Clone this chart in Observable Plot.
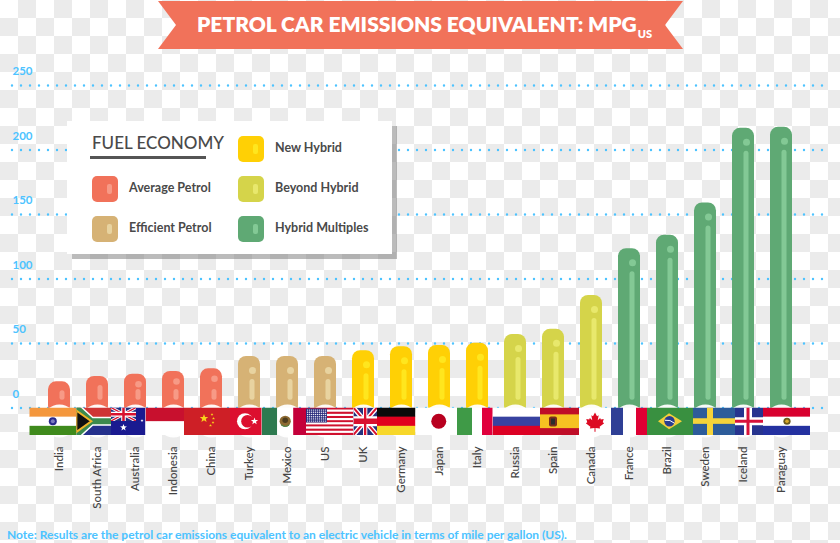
<!DOCTYPE html>
<html><head><meta charset="utf-8">
<script src="https://cdn.jsdelivr.net/npm/d3@7"></script>
<script src="https://cdn.jsdelivr.net/npm/@observablehq/plot@0.6"></script>
<style>
html,body{margin:0;padding:0}
body{width:840px;height:543px;overflow:hidden;font-family:Lato,sans-serif;
 background:conic-gradient(#ebebeb 25%,#fff 0 50%,#ebebeb 0 75%,#fff 0) 0 0/36px 36px}
#wrap{position:relative;width:840px;height:543px}
#chart svg{display:block;background:transparent;position:absolute;left:0;top:0}
#banner{position:absolute;left:158px;top:1px;width:525px;height:48px;background:#f1725a;
 clip-path:polygon(0 0,100% 0,calc(100% - 18px) 50%,100% 100%,0 100%,18px 50%);
 color:#fff;font-weight:800;font-size:21px;line-height:46px;text-indent:39px;white-space:nowrap}
#banner sub{font-size:11px;line-height:0;vertical-align:-6px;margin-left:1px}
#note{position:absolute;left:7px;top:527px;font-size:12px;font-weight:700;color:#4dc3ff;white-space:nowrap}
#legend{position:absolute;left:67px;top:121px;width:325px;height:133px;background:#fff;
 box-shadow:5px 5px 0 rgba(120,120,120,.5);color:#4a4a4a}
#legend .h{position:absolute;left:25px;top:11px;font-size:17px;font-weight:500;white-space:nowrap}
#legend .u{position:absolute;left:23px;top:35px;width:116px;height:3px;background:#555}
#legend .s{position:absolute;width:26px;height:26px;border-radius:5px}
#legend .s i{position:absolute;left:15.5px;top:8px;width:5px;height:10px;border-radius:2px}
#legend .t{position:absolute;font-size:12.5px;font-weight:700;line-height:16px;white-space:nowrap}
</style></head>
<body><div id="wrap">
<div id="chart"></div>
<div id="banner">PETROL CAR EMISSIONS EQUIVALENT: MPG<sub>US</sub></div>
<div id="legend"></div>
<div id="note">Note: Results are the petrol car emissions equivalent to an electric vehicle in terms of mile per gallon (US).</div>
</div>
<script>
const countries = ["India","South Africa","Australia","Indonesia","China","Turkey","Mexico","US","UK","Germany","Japan","Italy","Russia","Spain","Canada","France","Brazil","Sweden","Iceland","Paraguay"];
const mpg = [20.3,24.4,26.2,28.3,30.4,40,40,40,44.4,47.5,48.5,50.2,57,61,87.2,123.5,134,159,216.8,217.6];
const groupOf = ["Average Petrol","Average Petrol","Average Petrol","Average Petrol","Average Petrol","Efficient Petrol","Efficient Petrol","Efficient Petrol","New Hybrid","New Hybrid","New Hybrid","New Hybrid","Beyond Hybrid","Beyond Hybrid","Beyond Hybrid","Hybrid Multiples","Hybrid Multiples","Hybrid Multiples","Hybrid Multiples","Hybrid Multiples"];
const groups = ["Average Petrol","Efficient Petrol","New Hybrid","Beyond Hybrid","Hybrid Multiples"];
const groupColors = ["#f1725a","#d6b275","#ffd005","#d5d44a","#5fa974"];
const groupLights = ["#f79a86","#e8d3a0","#ffe61e","#e8e86c","#83c995"];
const yTicks = [0,50,100,150,200,250];
const rows = countries.map((c,i)=>({c,v:mpg[i],g:groupOf[i]}));
const light = d => groupLights[groups.indexOf(d.g)];

/* ---- flag pictograms: each is an SVG fragment in its own w×h box ---- */
const uj = (w,h)=>{
  return `<svg x="0" y="0" width="${w}" height="${h}" viewBox="0 0 60 30" preserveAspectRatio="none">
  <rect width="60" height="30" fill="#24307e"/>
  <path d="M0 0L60 30M60 0L0 30" stroke="#fff" stroke-width="7"/>
  <path d="M0 0L60 30M60 0L0 30" stroke="#d8112f" stroke-width="3"/>
  <path d="M30 0V30M0 15H60" stroke="#fff" stroke-width="11"/>
  <path d="M30 0V30M0 15H60" stroke="#d8112f" stroke-width="6"/></svg>`;};
const star=(x,y,r,f)=>{let p=[];for(let i=0;i<10;i++){const a=-Math.PI/2+i*Math.PI/5,q=i%2?r*.42:r;p.push((x+q*Math.cos(a)).toFixed(1)+","+(y+q*Math.sin(a)).toFixed(1));}return `<polygon points="${p.join(" ")}" fill="${f}"/>`;};
const bands=(w,h,cs)=>cs.map((c,i)=>`<rect y="${h*i/cs.length}" width="${w}" height="${h/cs.length+.3}" fill="${c}"/>`).join("");
const vbands=(h,spec)=>spec.map(([x,w,c])=>`<rect x="${x}" width="${w}" height="${h}" fill="${c}"/>`).join("");
const flagDraw = {
 India:(w,h)=>bands(w,h,["#f4973d","#fff","#3f8a1c"])+`<circle cx="${w/2}" cy="${h/2}" r="4" fill="#2a2a8c"/><circle cx="${w/2}" cy="${h/2}" r="2" fill="#7a7ac0"/>`,
 "South Africa":(w,h)=>`<rect width="${w}" height="${h/2}" fill="#cf3535"/><rect y="${h/2}" width="${w}" height="${h/2}" fill="#24308c"/>
  <path d="M0 0L15 ${h/2}H${w}M0 ${h}L15 ${h/2}" fill="none" stroke="#fff" stroke-width="9"/>
  <path d="M0 0L15 ${h/2}H${w}M0 ${h}L15 ${h/2}" fill="none" stroke="#3c8a4e" stroke-width="6"/>
  <path d="M0 3L15 ${h/2}L0 ${h-3}Z" fill="#111" stroke="#f0b428" stroke-width="2"/>`,
 Australia:(w,h)=>`<rect width="${w}" height="${h}" fill="#1a1a90"/>`+uj(25,13.5)+star(12.5,20,3.6,"#fff")+star(31,13,1.6,"#fff"),
 Indonesia:(w,h)=>bands(w,h,["#c8102e","#fff"]),
 China:(w,h)=>`<rect width="${w}" height="${h}" fill="#ce1f26"/>`+star(20,11,4.4,"#f8d21a")+star(28,7,1.5,"#f8d21a")+star(29.5,11,1.5,"#f8d21a")+star(29,15,1.5,"#f8d21a")+star(26.5,18,1.5,"#f8d21a"),
 Turkey:(w,h)=>`<rect width="${w}" height="${h}" fill="#dc0f2f"/><circle cx="15" cy="${h/2}" r="8" fill="#fff"/><circle cx="17.5" cy="${h/2}" r="6.3" fill="#dc0f2f"/>`+star(24.5,h/2,3.8,"#fff"),
 Mexico:(w,h)=>vbands(h,[[0,15.5,"#2e7a50"],[15.5,16,"#fff"],[31.5,w-31.5,"#c4003a"]])+`<circle cx="23.5" cy="${h/2}" r="5.6" fill="#8d6a32"/><circle cx="23.5" cy="${h/2-1}" r="2.8" fill="#4d3d1e"/><path d="M19.5 ${h/2+3.5}Q23.5 ${h/2+7} 27.5 ${h/2+3.5}" fill="none" stroke="#3f8a4a"/>`,
 US:(w,h)=>{let s="";for(let i=0;i<13;i++)s+=`<rect y="${i*h/13}" width="${w}" height="${h/13+.2}" fill="${i%2?"#fff":"#d0102e"}"/>`;
   s+=`<rect x="0" y="1" width="21" height="14" fill="#2b2f7e"/>`;
   for(let r=0;r<6;r++)for(let c=0;c<10;c++)s+=`<circle cx="${1.6+c*2}" cy="${2.6+r*2.2}" r=".72" fill="#e9e9f2"/>`;return s;},
 UK:(w,h)=>uj(w,h),
 Germany:(w,h)=>bands(w,h,["#0a0a0a","#e1001e","#f7d72a"]),
 Japan:(w,h)=>`<rect width="${w}" height="${h}" fill="#fff"/><circle cx="${w/2+2.5}" cy="${h/2}" r="7.5" fill="#b8001f"/>`,
 Italy:(w,h)=>vbands(h,[[0,15,"#3f9a47"],[15,10,"#fff"],[25,w-25,"#e0003c"]]),
 Russia:(w,h)=>bands(w,h,["#fff","#3742a0","#dc0023"]),
 Spain:(w,h)=>`<rect width="${w}" height="${h}" fill="#bf0d28"/><rect y="${h/4}" width="${w}" height="${h/2}" fill="#f6c222"/><rect x="9" y="9" width="8" height="10" rx="2" fill="#7a2d1c"/><rect x="11" y="11" width="4" height="6" fill="#2c2c2c"/>`,
 Canada:(w,h)=>`<rect width="${w}" height="${h}" fill="#fff"/><path transform="translate(${w/2} ${h/2+.5}) scale(.92)" fill="#dc0a23" d="M0 -10 L2.2 -6 L4 -7 L3 -1.5 L5.6 -4 L6.3 -2.4 L9.5 -3 L8.4 .6 L10 1.5 L5 5.5 L5.6 7.4 L.5 6.8 L.6 11 H-.6 L-.5 6.8 L-5.6 7.4 L-5 5.5 L-10 1.5 L-8.4 .6 L-9.5 -3 L-6.3 -2.4 L-5.6 -4 L-3 -1.5 L-4 -7 L-2.2 -6 Z"/>`,
 France:(w,h)=>vbands(h,[[0,12,"#2f3f95"],[12,13,"#fff"],[25,w-25,"#de0033"]]),
 Brazil:(w,h)=>`<rect width="${w}" height="${h}" fill="#399040"/><path d="M${w/2-12} ${h/2}L${w/2-1} ${h/2-8}L${w/2+12} ${h/2}L${w/2-1} ${h/2+8}Z" fill="#f3cf3a"/><circle cx="${w/2-.5}" cy="${h/2}" r="5.2" fill="#2a3c90"/><path d="M${w/2-5} ${h/2-1}Q${w/2} ${h/2-2} ${w/2+4.5} ${h/2+2}" stroke="#fff" fill="none" stroke-width="1"/>`,
 Sweden:(w,h)=>`<rect width="${w}" height="${h}" fill="#2d5c9a"/><rect x="14" width="6" height="${h}" fill="#f5d33a"/><rect y="${h/2-3}" width="${w}" height="5.6" fill="#f5d33a"/>`,
 Iceland:(w,h)=>`<rect width="${w}" height="${h}" fill="#27348f"/><rect x="9" width="8" height="${h}" fill="#fff"/><rect y="${h/2-4}" width="${w}" height="8" fill="#fff"/><rect x="11.5" width="3" height="${h}" fill="#d8123a"/><rect y="${h/2-1.5}" width="${w}" height="3" fill="#d8123a"/>`,
 Paraguay:(w,h)=>bands(w,h,["#d8002e","#fff","#2431a0"])+`<circle cx="${w/2+.5}" cy="${h/2}" r="3.6" fill="#6b5a1c"/><circle cx="${w/2+.5}" cy="${h/2}" r="1.8" fill="#d8a92a"/>`
};
/* flag extents relative to the band centre, in px */
const flagEdges = [29.3,76.3,111,145.5,184,230,261.7,306,353.3,377,415.5,457,492.7,540,579,611,647,693,735,763,810];
const flagsMark = (index, scales) => {
  const g = d3.create("svg:g");
  const x0 = scales.x(countries[0]) + scales.x.bandwidth/2, step = scales.x.step;
  const y0 = scales.y(0);
  let html = "";
  countries.forEach((c,i)=>{
    const left = flagEdges[i], right = flagEdges[i+1] + (i<19?0:0);
    const w = right-left, h = 27.5;
    html += `<svg x="${left}" y="${y0}" width="${w}" height="${h}" viewBox="0 0 ${w} ${h}" overflow="hidden">${flagDraw[c](w,h)}</svg>`;
  });
  g.html(html);
  return g.node();
};

const chart = Plot.plot({
  width:840, height:543,
  marginLeft:25.4, marginRight:26, marginTop:0, marginBottom:97,
  style:{background:"transparent",fontFamily:"Lato, sans-serif"},
  x:{domain:countries, padding:.43, label:null},
  y:{domain:[0,250], range:[407.5,85], label:null},
  color:{domain:groups, range:groupColors},
  marks:[
    Plot.ruleY(yTicks,{stroke:"#4dc3ff",strokeWidth:2.4,strokeDasharray:"0 9",strokeLinecap:"round",insetLeft:-13.4,insetRight:-17}),
    Plot.axisY({ticks:yTicks,anchor:"left",tickSize:0,tickPadding:0,textAnchor:"start",dx:-13.4,dy:-14,fill:"#4dc3ff",fontSize:11.5,fontWeight:700,label:null}),
    Plot.barY(rows,{x:"c",y1:-5,y2:"v",fill:"g",rx:8}),
    Plot.barY(rows.slice(0,2),{x:"c",y1:6,y2:"v",insetTop:9,insetLeft:11.5,insetRight:5.5,rx:2.5,fill:{value:light,scale:null}}),
    Plot.barY(rows.slice(2,5),{x:"c",y1:6,y2:14.3,insetLeft:11.5,insetRight:5.5,rx:2.5,fill:{value:light,scale:null}}),
    Plot.dot(rows.slice(2,5),{x:"c",y:"v",dx:3,dy:10,r:3.3,fill:{value:light,scale:null}}),
    Plot.barY(rows.slice(5),{x:"c",y1:6,y2:"v",insetTop:23,insetLeft:11.5,insetRight:5.5,rx:2.5,fill:{value:light,scale:null}}),
    Plot.dot(rows.slice(5),{x:"c",y:"v",dx:3,dy:14,r:3.5,fill:{value:light,scale:null}}),
    Plot.dot(rows,{x:"c",y:()=>-10,r:16.5,fill:"#fff",fillOpacity:.95}),
    flagsMark,
    Plot.axisX({anchor:"bottom",tickSize:0,tickPadding:0,tickRotate:-90,fill:"#444",fontSize:11.5,fontWeight:500,label:null})
  ]
});
document.getElementById("chart").append(chart);

/* legend */
const legendPos = {"New Hybrid":[170.5,15],"Average Petrol":[24.5,55],"Beyond Hybrid":[170.5,55],"Efficient Petrol":[24.5,95],"Hybrid Multiples":[170.5,95]};
const lg = document.getElementById("legend");
lg.innerHTML = `<div class="h">FUEL ECONOMY</div><div class="u"></div>` + groups.map((g,i)=>{
  const [x,y]=legendPos[g];
  return `<div class="s" style="left:${x}px;top:${y}px;background:${groupColors[i]}"><i style="background:${groupLights[i]}"></i></div><div class="t" style="left:${x+37.5}px;top:${y+4}px">${g}</div>`;
}).join("");
</script>
</body></html>
